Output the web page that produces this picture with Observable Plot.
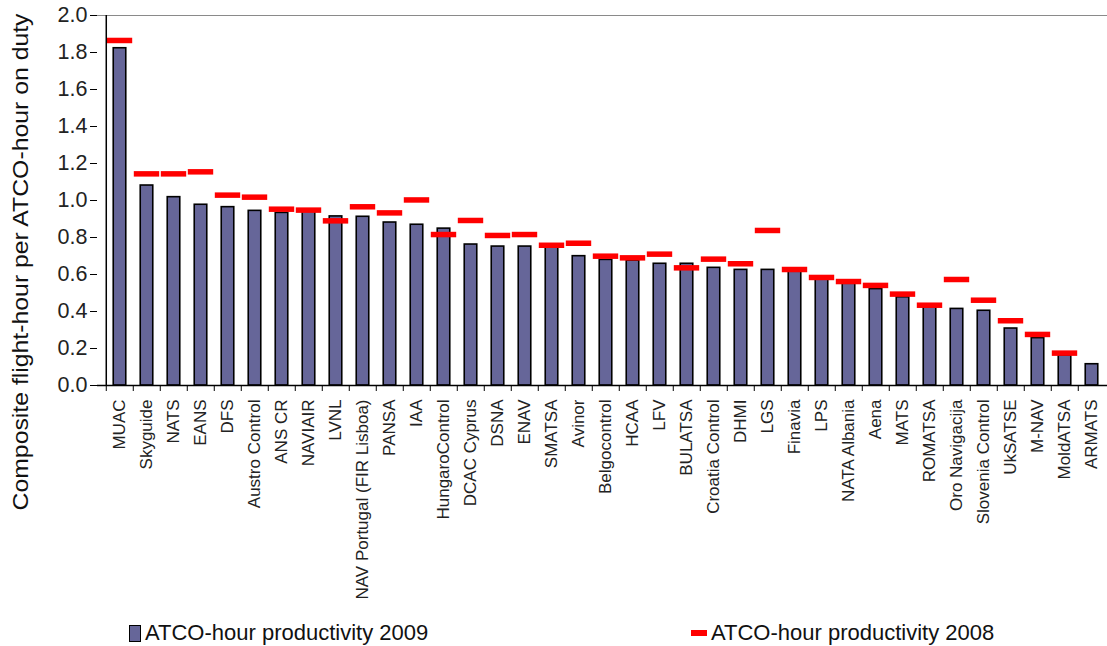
<!DOCTYPE html>
<html>
<head>
<meta charset="utf-8">
<script src="https://cdn.jsdelivr.net/npm/d3@7"></script>
<script src="https://cdn.jsdelivr.net/npm/@observablehq/plot@0.6"></script>
<style>
  body { margin: 0; background: #fff; font-family: "Liberation Sans", Arial, sans-serif; }
  #wrap { position: relative; width: 1107px; height: 646px; overflow: hidden; }
  .leg { position: absolute; top: 620px; font-size: 22px; color: #111; display: flex; align-items: center; height: 26px; white-space: nowrap; }
  .sq { width: 10px; height: 15px; background: #666699; border: 1.5px solid #000; margin-right: 4px; }
  .dash { width: 16px; height: 6px; background: #ff0000; margin-right: 4px; }
</style>
</head>
<body>
<div id="wrap"></div>
<script>
const categories = ["MUAC","Skyguide","NATS","EANS","DFS","Austro Control","ANS CR","NAVIAIR","LVNL","NAV Portugal (FIR Lisboa)","PANSA","IAA","HungaroControl","DCAC Cyprus","DSNA","ENAV","SMATSA","Avinor","Belgocontrol","HCAA","LFV","BULATSA","Croatia Control","DHMI","LGS","Finavia","LPS","NATA Albania","Aena","MATS","ROMATSA","Oro Navigacija","Slovenia Control","UkSATSE","M-NAV","MoldATSA","ARMATS"];
const values2009 = [1.823,1.081,1.018,0.977,0.964,0.944,0.933,0.940,0.914,0.912,0.881,0.869,0.848,0.762,0.751,0.751,0.745,0.699,0.679,0.675,0.658,0.658,0.636,0.625,0.625,0.615,0.573,0.550,0.521,0.477,0.423,0.414,0.404,0.308,0.256,0.162,0.115];
const values2008 = [1.865,1.144,1.144,1.155,1.029,1.018,0.953,0.948,0.890,0.966,0.933,1.003,0.816,0.892,0.811,0.816,0.758,0.769,0.699,0.690,0.710,0.636,0.683,0.658,0.838,0.627,0.584,0.562,0.541,0.494,0.434,0.573,0.461,0.350,0.276,0.175,null];
const yTicks = [0,0.2,0.4,0.6,0.8,1.0,1.2,1.4,1.6,1.8,2.0];
const seriesLabels = ["ATCO-hour productivity 2009","ATCO-hour productivity 2008"];
const yTitle = "Composite flight-hour per ATCO-hour on duty";

const rows = categories.map((c, i) => ({name: c, v2009: values2009[i], v2008: values2008[i]}));
const rows2008 = rows.filter(d => d.v2008 != null);

const W = 1107, H = 610;
const xRange = [97, 1113];
const step = (xRange[1] - xRange[0]) / categories.length;
const barInset = (step - 13) / 2;

const plot = Plot.plot({
  width: W,
  height: H,
  marginTop: 15,
  marginBottom: H - 385,
  marginLeft: 97,
  marginRight: 0,
  style: {fontFamily: "'Liberation Sans', Arial, sans-serif", background: "#fff", overflow: "visible"},
  x: {domain: categories, range: xRange, padding: 0, label: null},
  y: {domain: [0, 2], label: null},
  marks: [
    Plot.ruleY([2], {stroke: "#8a8a8a", strokeWidth: 1}),
    Plot.barY(rows, {x: "name", y: "v2009", fill: "#666699", stroke: "#000", strokeWidth: 1.6, insetLeft: barInset, insetRight: barInset}),
    Plot.tickY(rows2008, {x: "name", y: "v2008", stroke: "#ff0000", strokeWidth: 5.5, insetLeft: 0.8, insetRight: 0.8}),
    Plot.ruleY([0], {stroke: "#000", strokeWidth: 1.5}),
    Plot.ruleX([categories[0]], {dx: -step / 2, stroke: "#000", strokeWidth: 1.5}),
    Plot.axisY({ticks: yTicks, tickFormat: d3.format(".1f"), tickSize: 7, tickPadding: 3, fontSize: 21.5, fill: "#222", stroke: "#000", label: null}),
    Plot.axisX({tickSize: 6, tickFormat: () => "", dx: -step / 2, stroke: "#000", label: null}),
    Plot.axisX({tickSize: 0, tickPadding: 14, tickRotate: -90, fontSize: 17, fill: "#222", label: null})
  ]
});

const svg = d3.select(plot);
svg.append("text")
  .attr("transform", "translate(28,262) rotate(-90)")
  .attr("text-anchor", "middle")
  .attr("font-size", 22)
  .attr("fill", "#111")
  .attr("font-family", "'Liberation Sans', Arial, sans-serif")
  .attr("textLength", 497)
  .attr("lengthAdjust", "spacingAndGlyphs")
  .text(yTitle);

const wrap = document.getElementById("wrap");
wrap.appendChild(plot);

const leg1 = document.createElement("div");
leg1.className = "leg";
leg1.style.left = "129px";
leg1.innerHTML = '<span class="sq"></span><span></span>';
leg1.lastChild.textContent = seriesLabels[0];
wrap.appendChild(leg1);

const leg2 = document.createElement("div");
leg2.className = "leg";
leg2.style.left = "691px";
leg2.innerHTML = '<span class="dash"></span><span></span>';
leg2.lastChild.textContent = seriesLabels[1];
wrap.appendChild(leg2);
</script>
</body>
</html>
